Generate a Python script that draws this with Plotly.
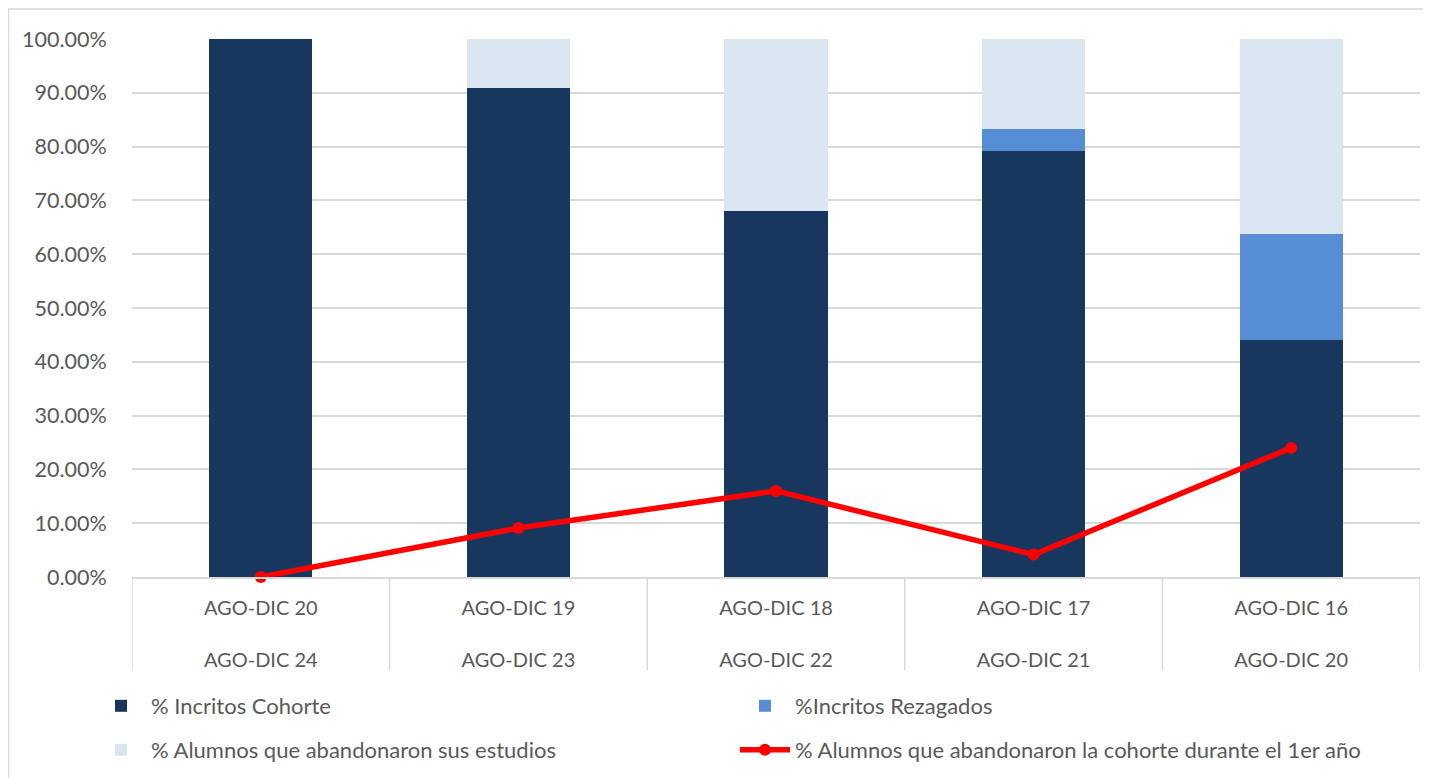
import plotly.graph_objects as go

periodo_inicio = ["AGO-DIC 20", "AGO-DIC 19", "AGO-DIC 18", "AGO-DIC 17", "AGO-DIC 16"]
periodo_fin = ["AGO-DIC 24", "AGO-DIC 23", "AGO-DIC 22", "AGO-DIC 21", "AGO-DIC 20"]

inscritos_cohorte = [1.00, 0.909, 0.68, 0.7917, 0.44]
inscritos_rezagados = [0.0, 0.0, 0.0, 0.0417, 0.198]
abandonaron_estudios = [0.0, 0.091, 0.32, 0.1666, 0.362]
abandonaron_primer_anio = [0.0, 0.091, 0.16, 0.0417, 0.24]

categorias = [f"{a}|{b}" for a, b in zip(periodo_inicio, periodo_fin)]
etiquetas = [f"{a}<br><br>{b}" for a, b in zip(periodo_inicio, periodo_fin)]

FONT = "Lato, 'Open Sans', sans-serif"
TXT = "#595959"
GRID = "#D9D9D9"

fig = go.Figure()
fig.add_bar(x=categorias, y=inscritos_cohorte, name="% Incritos Cohorte", marker_color="#17375E",
            marker_line_width=0, legend="legend")
fig.add_bar(x=categorias, y=inscritos_rezagados, name="%Incritos Rezagados", marker_color="#558ED5",
            marker_line_width=0, legend="legend")
fig.add_bar(x=categorias, y=abandonaron_estudios, name="% Alumnos que abandonaron sus estudios",
            marker_color="#DCE6F2", marker_line_width=0, legend="legend2")
fig.add_scatter(x=categorias, y=abandonaron_primer_anio, mode="lines+markers",
                name="% Alumnos que abandonaron la cohorte durante el 1er año",
                line=dict(color="#FF0000", width=5.5), marker=dict(color="#FF0000", size=12),
                cliponaxis=False, legend="legend2")

# page is offset by the 8px body margin
OFF = 8
W, H = 1431 - OFF, 778 - OFF
L, R, T, B = 132 - OFF, 11, 39 - OFF, 201
pw = W - L - R
ph = H - T - B


def px_x(p):
    return (p - OFF - L) / pw


def px_y(p):
    return (H - B - (p - OFF)) / ph


shapes = [dict(type="rect", xref="paper", yref="paper", x0=px_x(8.5), x1=px_x(1445),
               y0=px_y(790), y1=px_y(9), line=dict(color=GRID, width=1.5),
               fillcolor="rgba(0,0,0,0)", layer="below")]
n = len(categorias)
for i in range(n + 1):
    shapes.append(dict(type="line", xref="x", yref="paper", x0=i - 0.5, x1=i - 0.5,
                       y0=0, y1=px_y(670), line=dict(color=GRID, width=1.5)))

leg_common = dict(orientation="h", xanchor="left", yanchor="middle", entrywidth=579,
                  traceorder="normal", font=dict(size=22, color=TXT),
                  bgcolor="rgba(0,0,0,0)", itemwidth=50)

fig.update_layout(
    width=W, height=H,
    margin=dict(l=L, r=R, t=T, b=B, autoexpand=False),
    barmode="stack", bargap=0.6,
    plot_bgcolor="white", paper_bgcolor="white",
    font=dict(family=FONT, size=20, color=TXT),
    xaxis=dict(type="category", tickvals=categorias, ticktext=etiquetas, showgrid=False,
               showline=True, linecolor=GRID, linewidth=1.5, ticks="outside", ticklen=12,
               tickcolor="rgba(0,0,0,0)", tickfont=dict(size=20, color=TXT),
               range=[-0.5, n - 0.5]),
    yaxis=dict(range=[0, 1], tickformat=".2%", dtick=0.1, showgrid=True, gridcolor=GRID,
               gridwidth=1.5, zeroline=False, showline=False, ticks="outside", ticklen=20,
               tickcolor="rgba(0,0,0,0)", tickfont=dict(size=21.5, color=TXT)),
    legend=dict(x=px_x(91), y=px_y(706), **leg_common),
    legend2=dict(x=px_x(91), y=px_y(750), **leg_common),
    shapes=shapes,
)

fig.write_html("out.html")
